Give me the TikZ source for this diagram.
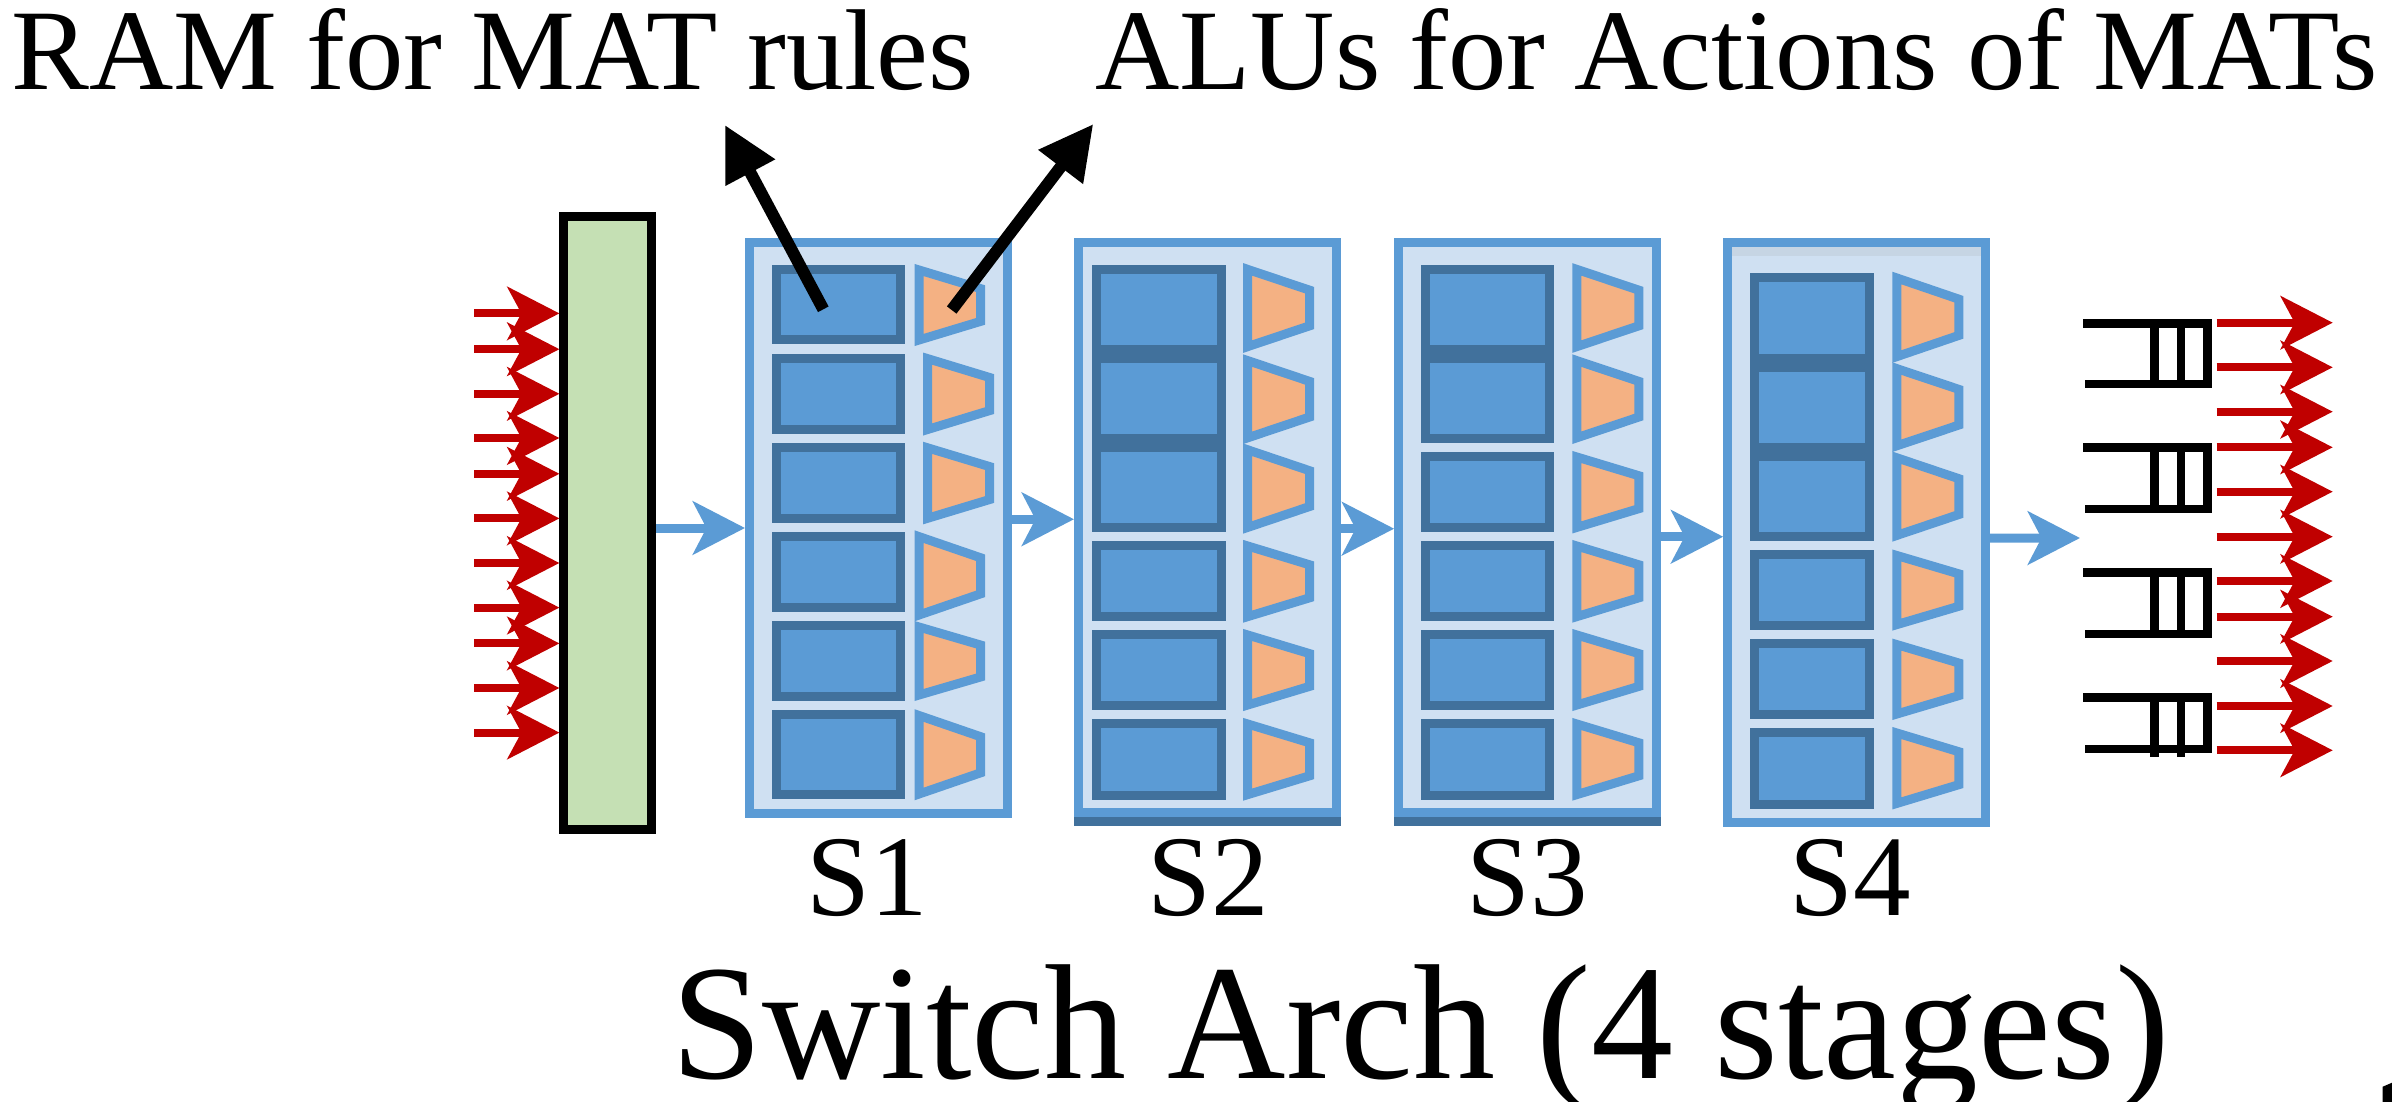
\documentclass[tikz,border=0pt]{standalone}
\usepackage{fontspec}
\setmainfont{Liberation Serif}
\usetikzlibrary{arrows.meta,calc}

\definecolor{stagefill}{HTML}{CFE0F2}
\definecolor{midblue}{HTML}{5B9BD5}
\definecolor{darkblue}{HTML}{41719C}
\definecolor{aluorange}{HTML}{F4B183}
\definecolor{parsergreen}{HTML}{C5E0B4}
\definecolor{pktred}{HTML}{C00000}
\definecolor{topgray}{HTML}{C6D5E4}

\tikzset{
  stage/.style={draw=midblue, fill=stagefill, line width=9pt, inner sep=0pt,
                minimum width=258pt},
  ram/.style={draw=darkblue, fill=midblue, line width=9pt},
  alu/.style={draw=midblue, fill=aluorange, line width=9pt, line join=miter},
  flow/.style={draw=midblue, line width=9pt,
               -{Stealth[length=52pt,width=53pt,inset=13.5pt]}},
  pkt/.style={draw=pktred, line width=8pt,
              -{Stealth[length=52pt,width=53pt,inset=14pt]}},
  callout/.style={draw=black, line width=12pt,
                  -{Triangle[length=54pt,width=53pt]}},
  queue/.style={draw=black, line width=8.4pt, line join=miter},
  label/.style={inner sep=0pt, font=\fontsize{115pt}{120pt}\selectfont},
}
\newcommand{\widertext}[1]{\scalebox{1.015}[1]{#1}}

\begin{document}
\begin{tikzpicture}[x=1pt,y=-1pt]
\useasboundingbox (0,0) rectangle (2392,1102);

% parser block
\node[draw=black, fill=parsergreen, line width=9pt, inner sep=0pt,
      minimum width=87.8pt, minimum height=613.8pt] (parser) at (607.8,523) {};

% incoming packets
\foreach \y [count=\i] in {313.4,349.2,393.8,438.0,473.8,518.4,563.0,607.6,643.4,688.0,732.6} {
  \coordinate (in\i) at (474.4,\y);
  \draw[pkt] (in\i) -- (in\i -| parser.west);
}

% pipeline stages
\node[stage, minimum height=570.5pt] (s1) at (878.5,527.75) {};
\node[stage, minimum height=570.5pt] (s2) at (1207.5,527.7) {};
\node[stage, minimum height=570.5pt] (s3) at (1527.65,527.7) {};
\node[stage, minimum height=579.7pt] (s4) at (1856.65,532.35) {};
\fill[darkblue] (1074,817.4) rectangle (1341,826);
\fill[darkblue] (1394.3,817.4) rectangle (1661,826);
\fill[topgray] (1732.3,247) rectangle (1981,256);

% match memories (RAM)
\foreach \t/\b in {265/344,354/434,443/523,532/612,621/701,710/799}
  \draw[ram] (776.5,\t+4.5) rectangle (900.5,\b-4.5);
\foreach \t/\b in {265/353.5,353.5/443,443/532,541/621,630/710,719/800}
  \draw[ram] (1096.5,\t+4.5) rectangle (1221.2,\b-4.5);
\foreach \t/\b in {265/353.5,353.5/443,452/532,541/621,630/710,719/800}
  \draw[ram] (1425.5,\t+4.5) rectangle (1549.8,\b-4.5);
\foreach \t/\b in {273.4/362.6,362.6/452,452/541.4,549.5/630,639/719.4,728/808.6}
  \draw[ram] (1754.5,\t+4.5) rectangle (1869.8,\b-4.5);

% action units (ALU)
\foreach \a/\c/\t/\b in {914.5/985/264/346, 923/994/352.6/435.5, 923/994/441.8/524.3,
    914.5/985/530.6/621, 914.5/985/621/701, 914.5/985/709.5/800,
    1243.2/1314/263.4/352.6, 1243.2/1314/354.6/443.8, 1243.2/1314/443.8/533.4,
    1243.2/1314/540/622.6, 1243.2/1314/629/711, 1243.2/1314/718/800.6,
    1572.3/1643.3/263.4/352.6, 1572.3/1643.3/354.6/443.8, 1572.3/1643.3/451/533.4,
    1572.3/1643.3/540/622.6, 1572.3/1643.3/629/711, 1572.3/1643.3/718/800.6,
    1892.3/1963.3/272/362.6, 1892.3/1963.3/362.6/451.8, 1892.3/1963.3/451.8/541.4,
    1892.3/1963.3/549.5/630.6, 1892.3/1963.3/638.6/720, 1892.3/1963.3/727/809.4}
  \draw[alu] (\a+4.5,\t+6) -- (\c-4.5,{\t+0.3*(\b-\t)})
             -- (\c-4.5,{\b-0.3*(\b-\t)}) -- (\a+4.5,\b-6) -- cycle;

% packet flow between blocks
\coordinate (f0) at ([yshift=-5pt]parser.east);
\draw[flow] (f0) -- (f0 -| s1.west);
\coordinate (f1) at ([yshift=8.5pt]s1.east);
\draw[flow] (f1) -- (f1 -| s2.west);
\coordinate (f2) at ([yshift=-1pt]s2.east);
\draw[flow] (f2) -- (f2 -| s3.west);
\coordinate (f3) at ([yshift=-9pt]s3.east);
\draw[flow] (f3) -- (f3 -| s4.west);
\coordinate (f4) at ([yshift=-5.7pt]s4.east);
\coordinate (out) at (2080,538);
\draw[flow] (f4) -- (out);

% output queues
\foreach \t/\b/\e in {323.5/384/384, 447.5/509/509, 572.5/634/634, 697.5/749/757} {
  \draw[queue] (2083.3,\t) -- (2207.5,\t) -- (2207.5,\b) -- (2085,\b);
  \draw[queue] (2154.5,\t) -- (2154.5,\e);
  \draw[queue] (2181,\t) -- (2181,\e);
}

% outgoing packets
\foreach \y [count=\i] in {322.7,367.3,411.7,447.3,491.7,536.7,581,616.7,661,706,750.3} {
  \coordinate (qo\i) at (2216.7,\y);
  \coordinate (tx\i) at (2332.7,\y);
  \draw[pkt] (qo\i) -- (tx\i);
}

% callouts
\coordinate (ramtag) at (823.3,309.3);
\coordinate (ramtip) at (725,125);
\coordinate (alutag) at (951.7,310);
\coordinate (alutip) at (1093.3,124);
\draw[callout] (ramtag) -- (ramtip);
\draw[callout] (alutag) -- (alutip);

% labels
\node[label, anchor=base west] (lblram) at (11,90) {\widertext{RAM for MAT rules}};
\node[label, anchor=base west] (lblalu) at (1095,90) {\widertext{ALUs for Actions of MATs}};
\node[label, anchor=base] (lbls1) at (867,915) {S1};
\node[label, anchor=base] (lbls2) at (1208,915) {S2};
\node[label, anchor=base] (lbls3) at (1527,915) {S3};
\node[label, anchor=base] (lbls4) at (1850,915) {S4};
\node[inner sep=0pt, anchor=base west, font=\fontsize{164pt}{170pt}\selectfont]
  (title) at (671,1078) {Switch Arch (4 stages)};

% glyph edge at the lower right corner
\fill[black] (2382.7,1086.7) -- (2392,1082.7) -- (2392,1102) -- (2382.7,1102) -- cycle;
\end{tikzpicture}
\end{document}
